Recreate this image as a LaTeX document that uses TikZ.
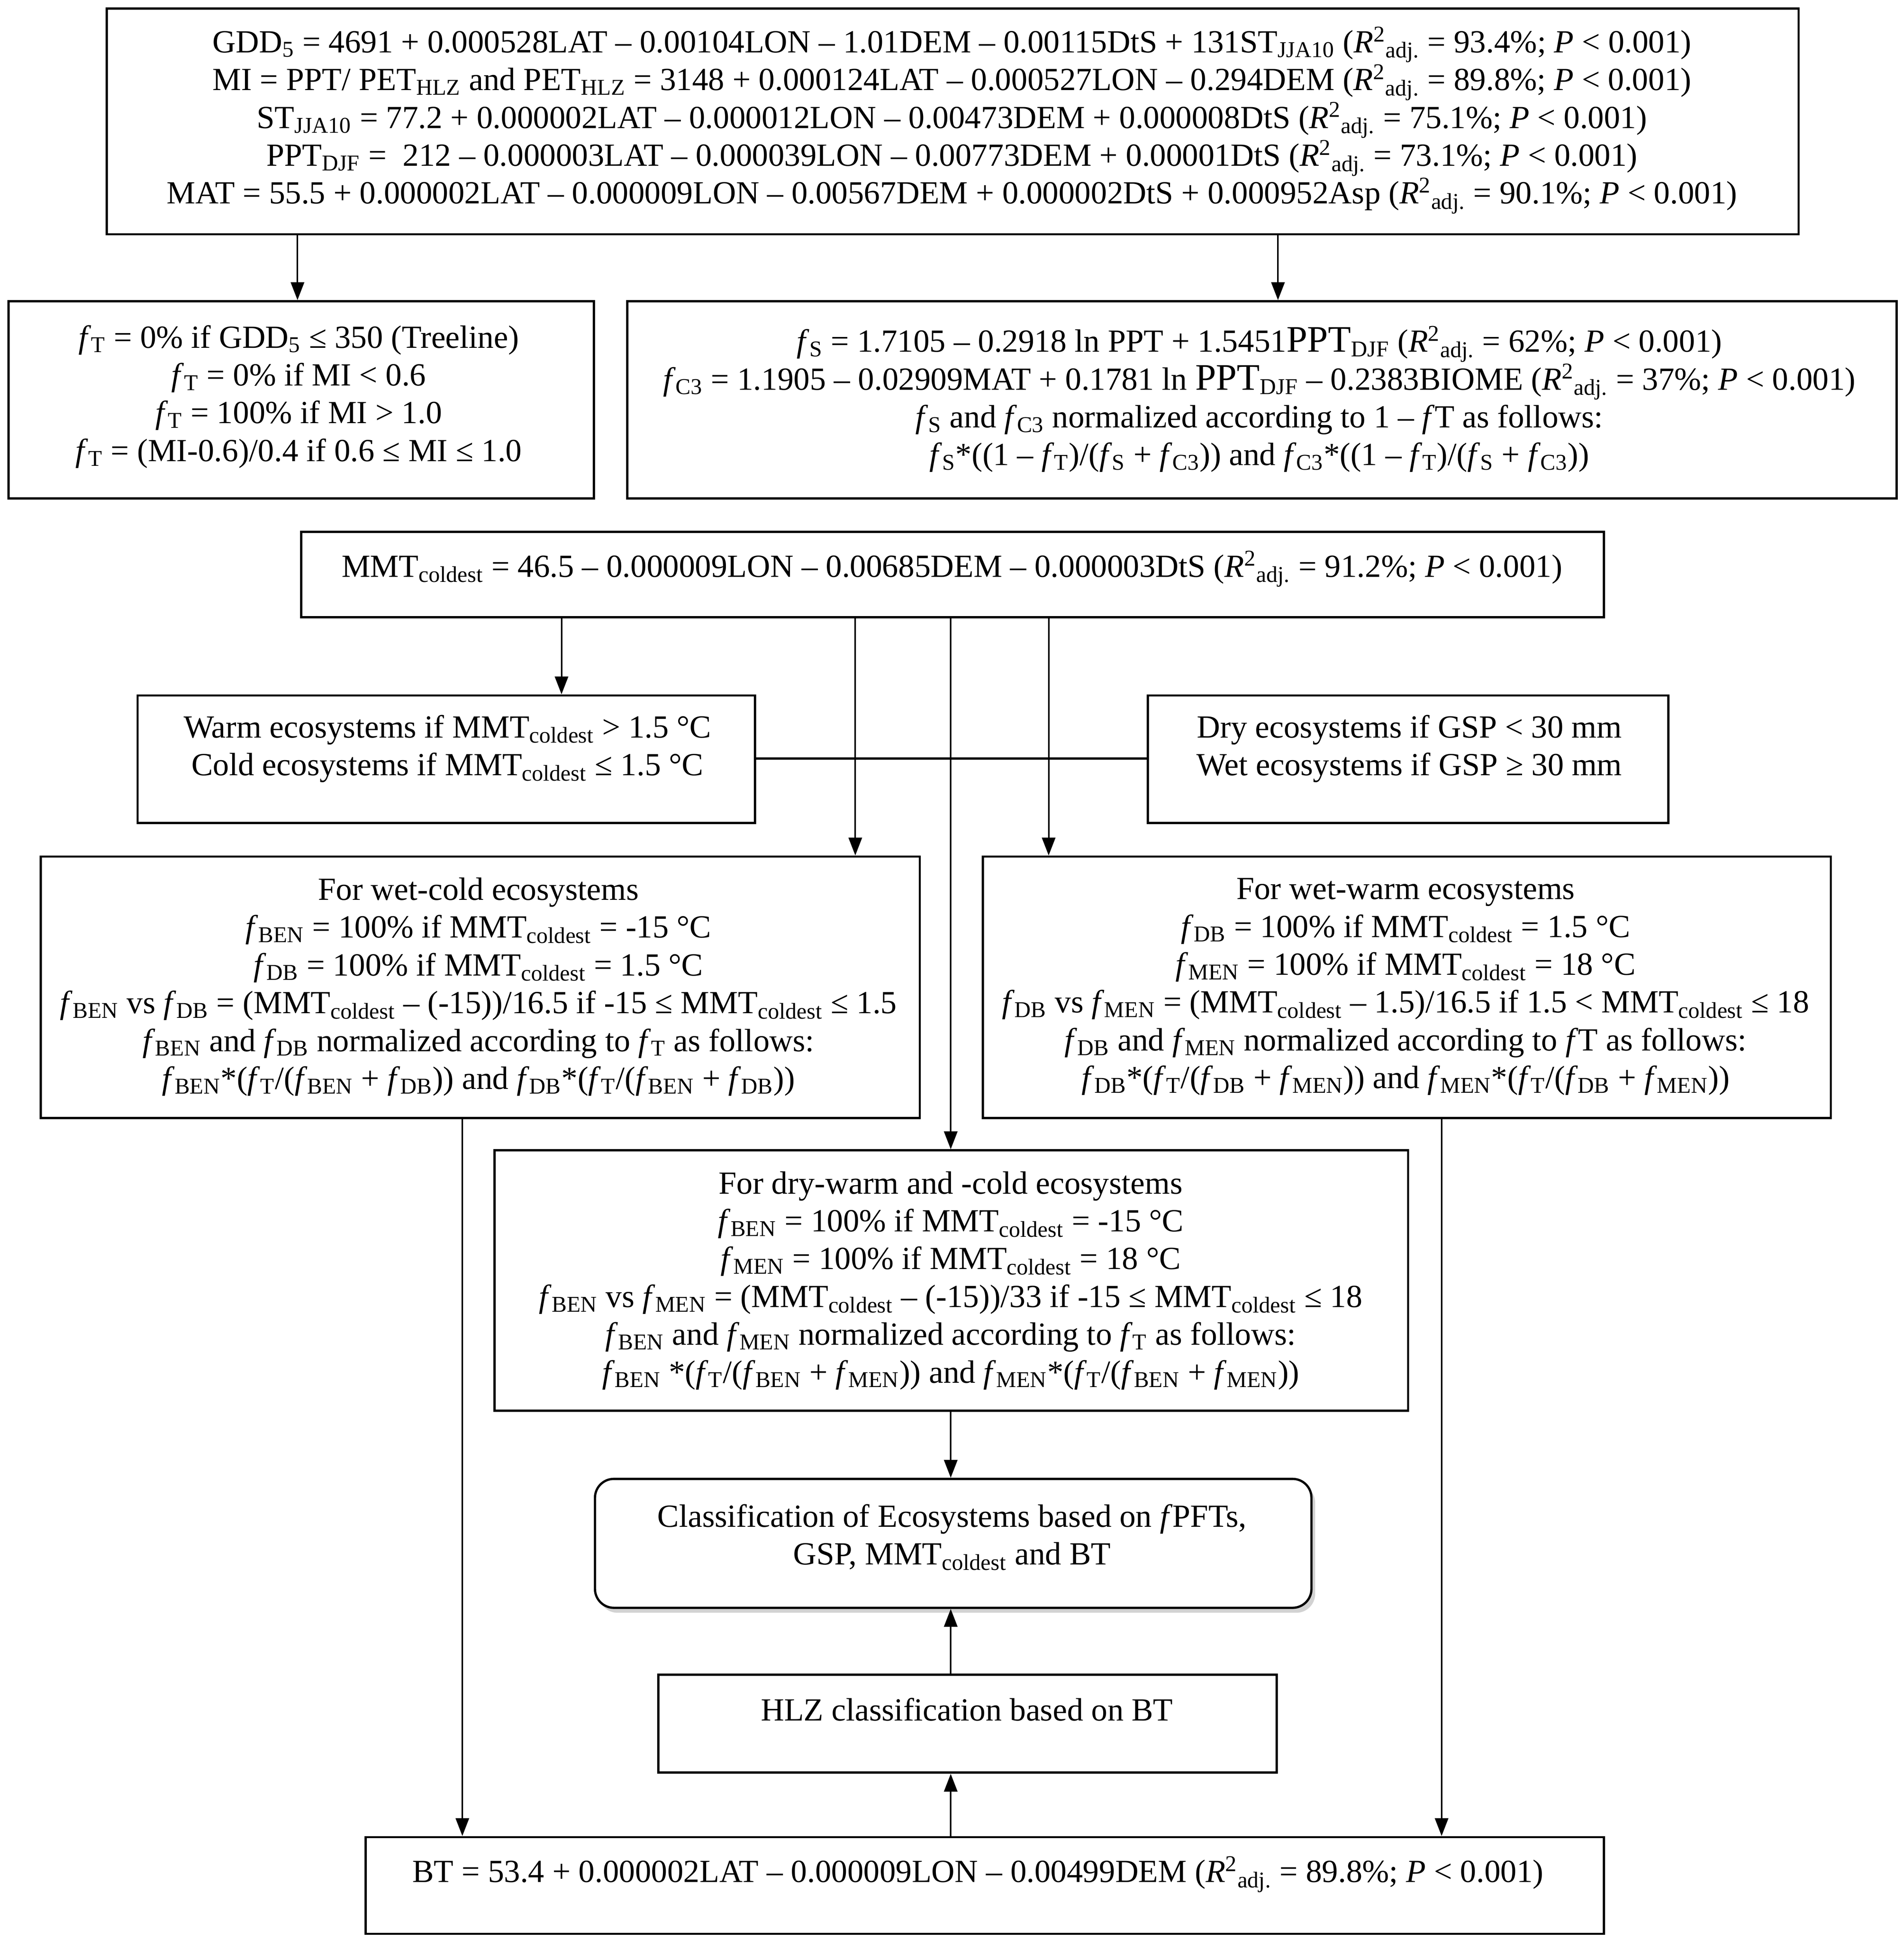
\documentclass[tikz,border=0pt]{standalone}
\usepackage{fontspec}
\setmainfont{Liberation Serif}
\usetikzlibrary{arrows.meta,fit,calc}
\newcommand{\fsub}[1]{\textit{f}\textsubscript{#1}}
\newcommand{\Radj}{\textit{R}\textsuperscript{2}\textsubscript{adj.}}
\newcommand{\mmtc}{MMT\textsubscript{coldest}}
\newcommand{\bigppt}{{\fontsize{21.5}{21.5}\selectfont PPT}}
\begin{document}
\begin{tikzpicture}[x=0.025cm,y=-0.025cm,
  box/.style={draw=black,line width=1.3pt,inner sep=0pt},
  rbox/.style={box,rounded corners=0.38cm},
  txt/.style={inner sep=0pt,align=center,font=\fontsize{18.5}{21.7}\selectfont},
  arr/.style={line width=0.9pt,-{Triangle[length=0.36cm,width=0.27cm]}},
  plain/.style={line width=1.3pt}]
\useasboundingbox (0,0) rectangle (1536,1565.8);

% boxes
\node[box,fit={(86,7)(1451,189)}] (b1) {};
\node[box,fit={(7,243)(479,402)}] (b2) {};
\node[box,fit={(506,243)(1530,402)}] (b3) {};
\node[box,fit={(243,429)(1294,498)}] (b4) {};
\node[box,fit={(111,561)(609,664)}] (warm) {};
\node[box,fit={(926,561)(1346,664)}] (dry) {};
\node[box,fit={(33,691)(742,902)}] (wc) {};
\node[box,fit={(793,691)(1477,902)}] (ww) {};
\node[box,fit={(399,928)(1136,1138)}] (dw) {};
\fill[gray!35,rounded corners=0.38cm] (483,1197) rectangle (1061,1301);
\node[rbox,fill=white,fit={(480,1193)(1058,1297)}] (cls) {};
\node[box,fit={(531,1351)(1030,1430)}] (hlz) {};
\node[box,fit={(295,1482)(1294,1560)}] (bt) {};

% texts
\node[txt] (t1) at (768,97) {GDD\textsubscript{5} = 4691 + 0.000528LAT – 0.00104LON – 1.01DEM – 0.00115DtS + 131ST\textsubscript{JJA10} (\Radj{} = 93.4\%; \textit{P} < 0.001)\\
MI = PPT/ PET\textsubscript{HLZ} and PET\textsubscript{HLZ} = 3148 + 0.000124LAT – 0.000527LON – 0.294DEM (\Radj{} = 89.8\%; \textit{P} < 0.001)\\
ST\textsubscript{JJA10} = 77.2 + 0.000002LAT – 0.000012LON – 0.00473DEM + 0.000008DtS (\Radj{} = 75.1\%; \textit{P} < 0.001)\\
PPT\textsubscript{DJF} =~ 212 – 0.000003LAT – 0.000039LON – 0.00773DEM + 0.00001DtS (\Radj{} = 73.1\%; \textit{P} < 0.001)\\
MAT = 55.5 + 0.000002LAT – 0.000009LON – 0.00567DEM + 0.000002DtS + 0.000952Asp (\Radj{} = 90.1\%; \textit{P} < 0.001)};

\node[txt] (t2) at (241,320) {\fsub{T} = 0\% if GDD\textsubscript{5} ≤ 350 (Treeline)\\
\fsub{T} = 0\% if MI < 0.6\\
\fsub{T} = 100\% if MI > 1.0\\
\fsub{T} = (MI-0.6)/0.4 if 0.6 ≤ MI ≤ 1.0};

\node[txt] (t3) at (1016,322) {\fsub{S} = 1.7105 – 0.2918 ln PPT + 1.5451\bigppt\textsubscript{DJF} (\Radj{} = 62\%; \textit{P} < 0.001)\\
\fsub{C3} = 1.1905 – 0.02909MAT + 0.1781 ln \bigppt\textsubscript{DJF} – 0.2383BIOME (\Radj{} = 37\%; \textit{P} < 0.001)\\
\fsub{S} and \fsub{C3} normalized according to 1 – \textit{f}T as follows:\\
\fsub{S}*((1 – \fsub{T})/(\fsub{S} + \fsub{C3})) and \fsub{C3}*((1 – \fsub{T})/(\fsub{S} + \fsub{C3}))};

\node[txt] (t4) at (768,459) {\mmtc{} = 46.5 – 0.000009LON – 0.00685DEM – 0.000003DtS (\Radj{} = 91.2\%; \textit{P} < 0.001)};

\node[txt] (t5) at (361,604) {Warm ecosystems if \mmtc{} > 1.5 °C\\
Cold ecosystems if \mmtc{} ≤ 1.5 °C};

\node[txt] (t6) at (1137,604) {Dry ecosystems if GSP < 30 mm\\
Wet ecosystems if GSP ≥ 30 mm};

\node[txt] (t7) at (386,796) {For wet-cold ecosystems\\
\fsub{BEN} = 100\% if \mmtc{} = -15 °C\\
\fsub{DB} = 100\% if \mmtc{} = 1.5 °C\\
\fsub{BEN} vs \fsub{DB} = (\mmtc{} – (-15))/16.5 if -15 ≤ \mmtc{} ≤ 1.5\\
\fsub{BEN} and \fsub{DB} normalized according to \fsub{T} as follows:\\
\fsub{BEN}*(\fsub{T}/(\fsub{BEN} + \fsub{DB})) and \fsub{DB}*(\fsub{T}/(\fsub{BEN} + \fsub{DB}))};

\node[txt] (t8) at (1134,796) {For wet-warm ecosystems\\
\fsub{DB} = 100\% if \mmtc{} = 1.5 °C\\
\fsub{MEN} = 100\% if \mmtc{} = 18 °C\\
\fsub{DB} vs \fsub{MEN} = (\mmtc{} – 1.5)/16.5 if 1.5 < \mmtc{} ≤ 18\\
\fsub{DB} and \fsub{MEN} normalized according to \textit{f}T as follows:\\
\fsub{DB}*(\fsub{T}/(\fsub{DB} + \fsub{MEN})) and \fsub{MEN}*(\fsub{T}/(\fsub{DB} + \fsub{MEN}))};

\node[txt] (t9) at (767,1033) {For dry-warm and -cold ecosystems\\
\fsub{BEN} = 100\% if \mmtc{} = -15 °C\\
\fsub{MEN} = 100\% if \mmtc{} = 18 °C\\
\fsub{BEN} vs \fsub{MEN} = (\mmtc{} – (-15))/33 if -15 ≤ \mmtc{} ≤ 18\\
\fsub{BEN} and \fsub{MEN} normalized according to \fsub{T} as follows:\\
\fsub{BEN} *(\fsub{T}/(\fsub{BEN} + \fsub{MEN})) and \fsub{MEN}*(\fsub{T}/(\fsub{BEN} + \fsub{MEN}))};

\node[txt] (t10) at (768,1240) {Classification of Ecosystems based on \textit{f}PFTs,\\
GSP, \mmtc{} and BT};

\node[txt] (t11) at (780,1379) {HLZ classification based on BT};

\node[txt] (t12) at (789,1512) {BT = 53.4 + 0.000002LAT – 0.000009LON – 0.00499DEM (\Radj{} = 89.8\%; \textit{P} < 0.001)};

% connectors
\draw[arr] (240,0 |- b1.south) -- (240,0 |- b2.north);
\draw[arr] (1031,0 |- b1.south) -- (1031,0 |- b3.north);
\draw[arr] (453,0 |- b4.south) -- (453,0 |- warm.north);
\draw[arr] (690,0 |- b4.south) -- (690,0 |- wc.north);
\draw[arr] (767,0 |- b4.south) -- (767,0 |- dw.north);
\draw[arr] (846,0 |- b4.south) -- (846,0 |- ww.north);
\draw[plain] (warm.east |- 0,612) -- (dry.west |- 0,612);
\draw[arr] (767,0 |- dw.south) -- (767,0 |- cls.north);
\draw[arr] (767,0 |- hlz.north) -- (767,0 |- cls.south);
\draw[arr] (767,0 |- bt.north) -- (767,0 |- hlz.south);
\draw[arr] (373,0 |- wc.south) -- (373,0 |- bt.north);
\draw[arr] (1163,0 |- ww.south) -- (1163,0 |- bt.north);
\end{tikzpicture}
\end{document}
